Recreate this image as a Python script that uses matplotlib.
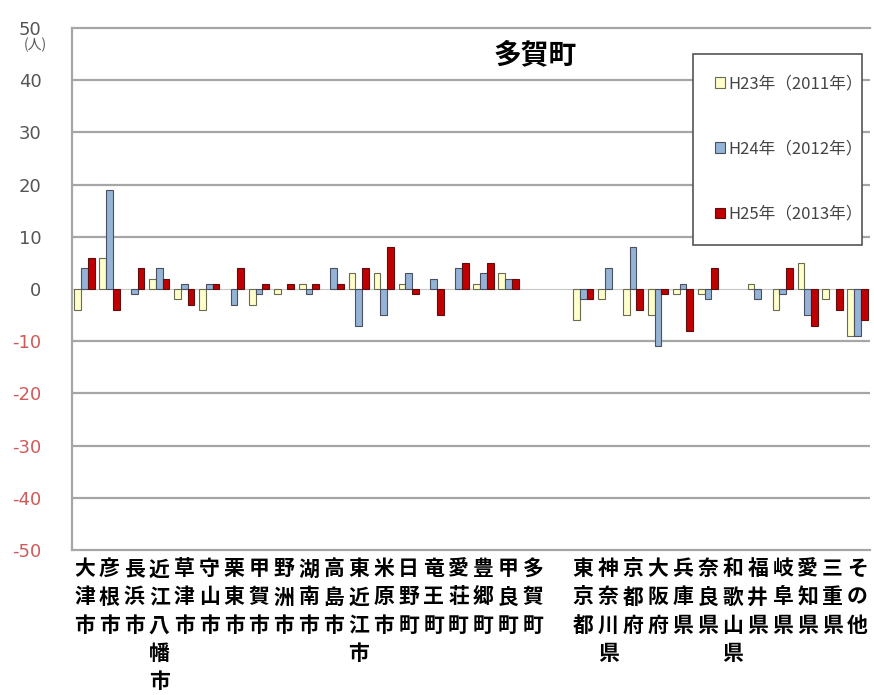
import matplotlib.pyplot as plt
import numpy as np

# 転入超過数（人）: 滋賀県内の市町と県外
areas = ['大津市', '彦根市', '長浜市', '近江八幡市', '草津市', '守山市', '栗東市',
         '甲賀市', '野洲市', '湖南市', '高島市', '東近江市', '米原市', '日野町',
         '竜王町', '愛荘町', '豊郷町', '甲良町', '多賀町', '',
         '東京都', '神奈川県', '京都府', '大阪府', '兵庫県', '奈良県', '和歌山県',
         '福井県', '岐阜県', '愛知県', '三重県', 'その他']
h23 = [-4, 6, 0, 2, -2, -4, 0, -3, -1, 1, 0, 3, 3, 1, 0, 0, 1, 3, 0, 0,
       -6, -2, -5, -5, -1, -1, 0, 1, -4, 5, -2, -9]
h24 = [4, 19, -1, 4, 1, 1, -3, -1, 0, -1, 4, -7, -5, 3, 2, 4, 3, 2, 0, 0,
       -2, 4, 8, -11, 1, -2, 0, -2, -1, -5, 0, -9]
h25 = [6, -4, 4, 2, -3, 1, 4, 1, 1, 1, 1, 4, 8, -1, -5, 5, 5, 2, 0, 0,
       -2, 0, -4, -1, -8, 4, 0, 0, 4, -7, -4, -6]
series = ['H23年（2011年）', 'H24年（2012年）', 'H25年（2013年）']
yticks = [50, 40, 30, 20, 10, 0, -10, -20, -30, -40, -50]

plt.rcParams['font.family'] = ['Noto Sans CJK JP', 'DejaVu Sans']

fig = plt.figure(figsize=(8.74, 6.95), dpi=100)
ax = fig.add_axes([0.0824, 0.2086, 0.913, 0.7511])

x = np.arange(len(areas))
w = 0.27


def edges(vals):
    # 0人のところは枠線を描かない
    return [0.8 if v != 0 else 0 for v in vals]


ax.bar(x - w, h23, w, color='#FFFFCC', edgecolor='#6B6B50',
       linewidth=edges(h23), label=series[0], zorder=3)
ax.bar(x, h24, w, color='#95B3D7', edgecolor='#4A5060',
       linewidth=edges(h24), label=series[1], zorder=3)
ax.bar(x + w, h25, w, color='#C00000', edgecolor='#5A1010',
       linewidth=edges(h25), label=series[2], zorder=3)

ax.set_xlim(-0.5, len(areas) - 0.5)
ax.set_ylim(-50, 50)
ax.set_yticks(yticks)
for v in [40, 30, 20, 10, -10, -20, -30, -40]:
    ax.axhline(v, color='#A6A6A6', lw=1.6, zorder=1)
ax.axhline(0, color='#C8C8C8', lw=0.8, zorder=2)

for s in ['top', 'left', 'bottom']:
    ax.spines[s].set_color('#A6A6A6')
    ax.spines[s].set_linewidth(1.6)
ax.spines['right'].set_visible(False)

ax.tick_params(axis='y', length=0, pad=22, labelsize=13)
ax.set_yticklabels([str(v) for v in yticks],
                   family=['Liberation Sans Narrow', 'DejaVu Sans'])
for lab, v in zip(ax.get_yticklabels(), yticks):
    lab.set_color('#D05A5A' if v < 0 else '#555555')

# 縦書きの地名ラベル
ax.set_xticks(x)
ax.set_xticklabels(['\n'.join(a) for a in areas], fontsize=15,
                   fontweight='bold', linespacing=1.42, va='top')
ax.tick_params(axis='x', length=0, pad=6)

ax.text(0.58, 0.948, '多賀町', transform=ax.transAxes, ha='center',
        va='center', fontsize=20, fontweight='bold')
fig.text(0.04, 0.935, '(人)', ha='center', va='center', fontsize=10,
         color='#555555')

leg = ax.legend(loc='upper left', bbox_to_anchor=(0.768, 0.967, 0.232, 0.0),
                mode='expand', fontsize=12, labelspacing=2.9, borderpad=1.3,
                handlelength=0.6, handleheight=0.6, handletextpad=0.2,
                fancybox=False, framealpha=1, edgecolor='#555555')
leg.get_frame().set_linewidth(1.2)
leg.set_zorder(5)
for t in leg.get_texts():
    t.set_color('#444444')

fig.savefig('out.png', dpi=100)
